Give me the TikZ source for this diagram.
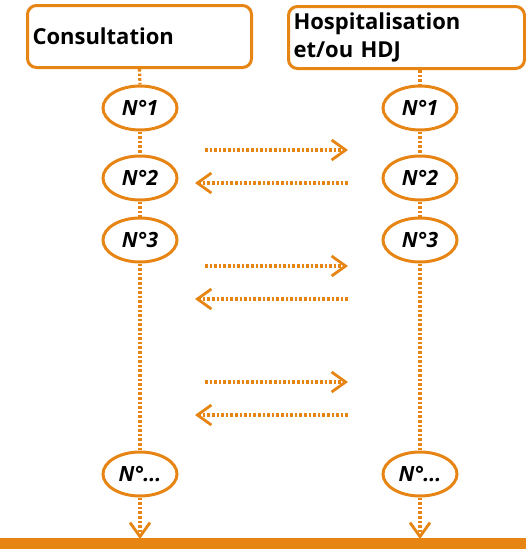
\documentclass[tikz,border=0pt]{standalone}
\usepackage{fontspec}
\setmainfont{Open Sans}
\usetikzlibrary{arrows.meta,positioning,shapes.geometric}
\definecolor{orng}{RGB}{230,132,20}

\begin{document}
\begin{tikzpicture}
[x=1pt,y=-1pt,>={Straight Barb[length=14pt,width=20pt,line width=2.8pt]},
box/.style = {draw=orng, line width=3pt, rounded corners=9pt, minimum width=224pt, minimum height=62pt, inner sep=4pt, anchor=north west, font=\bfseries\fontsize{22}{28}\selectfont},
ell/.style = {draw=orng, line width=3pt, ellipse, minimum width=74pt, minimum height=44pt, inner sep=0pt, font=\bfseries\itshape\fontsize{21}{24}\selectfont},
dots/.style = {draw=orng, line width=3.2pt, dash pattern=on 2.6pt off 2pt},]
\useasboundingbox (0,0) rectangle (526,549);
% headers
\node (cons) at (26,4)[box,text width=214pt,align=left] {Consultation};
\node (hosp) at (287,4)[box,minimum width=236pt,text width=226pt,align=left,yshift=-1pt] {Hospitalisation\\et/ou HDJ};
% left column
\node (c1) at (140,108)[ell] {N°1};
\node (c2) at (140,178)[ell] {N°2};
\node (c3) at (140,240)[ell] {N°3};
\node (c4) at (140,474)[ell] {N°...};
% right column
\node (h1) at (420,108)[ell] {N°1};
\node (h2) at (420,178)[ell] {N°2};
\node (h3) at (420,240)[ell] {N°3};
\node (h4) at (420,474)[ell] {N°...};
% bottom bar
\fill[orng] (0,538) rectangle (526,549);
\coordinate (cend) at (140,539);
\coordinate (hend) at (420,539);
\draw[dots] (cons.south) -- (c1.north);
\draw[dots] (c1)--(c2);
\draw[dots] (c2)--(c3);
\draw[dots] (c3)--(c4);
\draw[dots,->] (c4)--(cend);
\draw[dots] (h1 |- hosp.south) -- (h1.north);
\draw[dots] (h1)--(h2);
\draw[dots] (h2)--(h3);
\draw[dots] (h3)--(h4);
\draw[dots,->] (h4)--(hend);
% exchanges
\foreach \y/\n in {150/a,266/b,382/c}
{
\coordinate (go\n) at (205,\y);
\coordinate (to\n) at (348,\y);
\draw[dots,->] (go\n)--(to\n);
}
\foreach \y/\n in {183/a,299/b,415/c}
{
\coordinate (back\n) at (348,\y);
\coordinate (from\n) at (195,\y);
\draw[dots,->] (back\n)--(from\n);
}
\end{tikzpicture}
\end{document}
